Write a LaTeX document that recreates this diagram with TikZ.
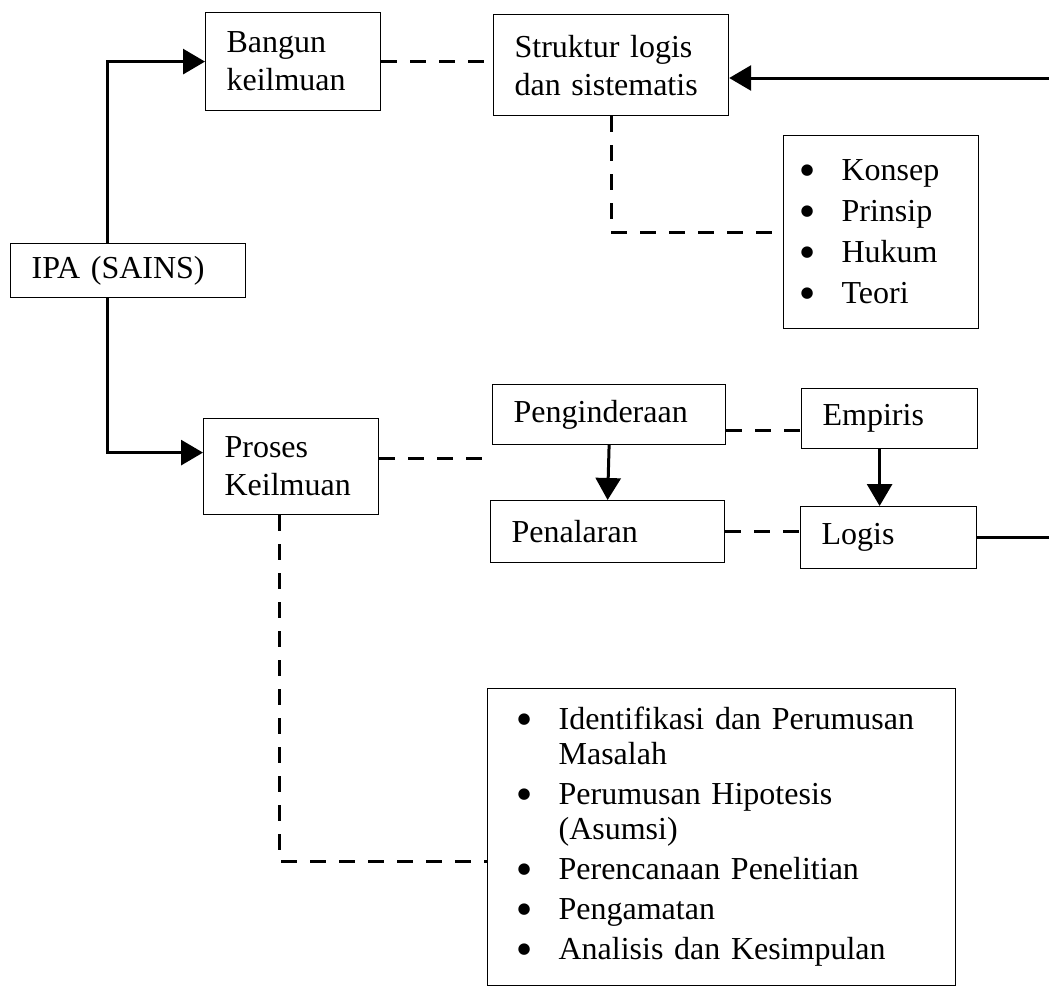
\documentclass[tikz,border=0pt]{standalone}
\usepackage{fontspec}
\setmainfont{Liberation Serif}
\newfontfamily\simbol{DejaVu Sans}
\usetikzlibrary{calc,arrows.meta}
\newcommand{\titik}{\makebox[41pt][l]{\raisebox{6pt}{\simbol\fontsize{15}{15}\selectfont ●}}}
\newcommand{\titiks}{\hspace*{41pt}}

\begin{document}
\begin{tikzpicture}[x=1pt,y=-1pt,
     kotak/.style 2 args={draw, line width=1.2pt, anchor=north west, align=left,
          inner xsep=21pt, inner ysep=0pt, text width=#1, minimum height=#2,
          font=\fontsize{32}{38}\selectfont},
     garis/.style={line width=3pt, -{Triangle[length=22pt,width=25pt]}},
     putus/.style={line width=3pt, dash pattern=on 16pt off 13pt}]
     \useasboundingbox (0,0) rectangle (1049,1001);

     \node[kotak={193pt}{54pt}] (ipa) at (10,243) {IPA (SAINS)};
     \node[kotak={133pt}{98pt}] (bangun) at (205,12) {Bangun\\keilmuan};
     \node[kotak={193pt}{101pt}] (struktur) at (493,14) {Struktur logis\\dan sistematis};
     \node[kotak={161pt}{193pt}, inner xsep=17pt, font=\fontsize{32}{41}\selectfont] (konsep) at (783,135)
          {\titik Konsep\\\titik Prinsip\\\titik Hukum\\\titik Teori};
     \node[kotak={133pt}{96pt}] (proses) at (203,418) {Proses\\Keilmuan};
     \node[kotak={191pt}{60pt}] (pengind) at (492,384) {Penginderaan};
     \node[kotak={134pt}{60pt}] (empiris) at (801,388) {Empiris};
     \node[kotak={192pt}{62pt}] (penal) at (490,500) {Penalaran};
     \node[kotak={134pt}{62pt}] (logis) at (800,506) {Logis};
     \node[kotak={408pt}{297pt}, inner xsep=30pt, font=\fontsize{32}{35}\selectfont] (langkah) at (487,688)
          {\titik Identifikasi dan Perumusan\\\titiks Masalah\\[5pt]
           \titik Perumusan Hipotesis\\\titiks (Asumsi)\\[5pt]
           \titik Perencanaan Penelitian\\[5pt]
           \titik Pengamatan\\[5pt]
           \titik Analisis dan Kesimpulan};

     \coordinate (batang) at (107,0);
     \coordinate (masuk) at (1049,78);

     \draw[garis] (ipa.north -| batang) |- (bangun.west);
     \draw[garis] (ipa.south -| batang) |- ([yshift=14pt]proses.west);
     \draw[putus] (bangun.east) -- (bangun.east -| struktur.west);
     \draw[garis] (masuk) -- (masuk -| struktur.east);
     \draw[putus] (struktur.south) |- (konsep.west);
     \draw[putus] ([yshift=8pt]proses.east) -- ([yshift=8pt]proses.east -| pengind.west);
     \draw[putus] ([yshift=-16pt]pengind.east) -- ([yshift=-16pt]pengind.east -| empiris.west);
     \draw[putus] (penal.east) -- (penal.east -| logis.west);
     \draw[garis] (pengind.south) -- (penal.north);
     \draw[garis] ([xshift=-10pt]empiris.south) -- ([xshift=-10pt]empiris.south |- logis.north);
     \draw[line width=3pt] (logis.east) -- (logis.east -| masuk);
     \draw[putus] ([xshift=-12pt]proses.south) |- ([yshift=-24pt]langkah.west);

  \end{tikzpicture}
\end{document}
